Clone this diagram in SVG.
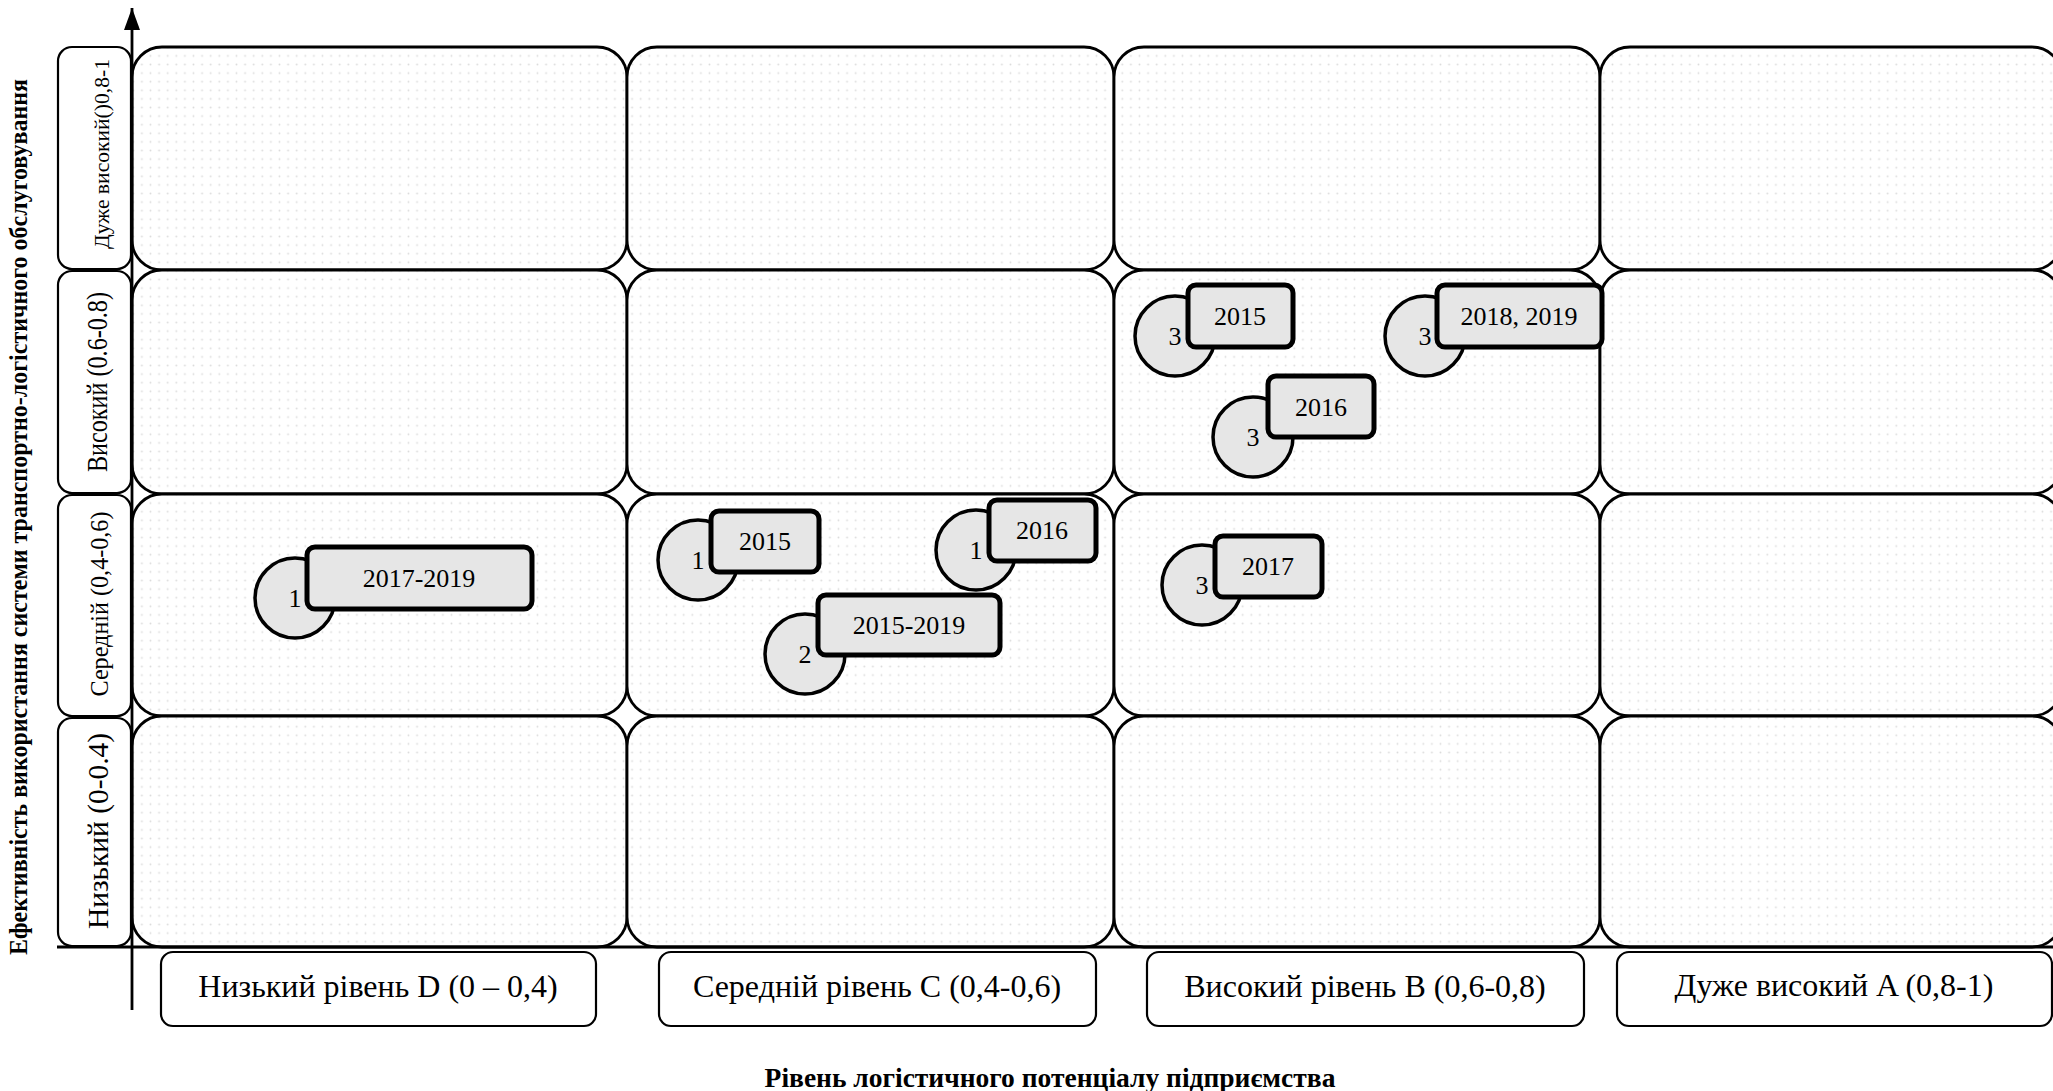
<svg xmlns="http://www.w3.org/2000/svg" width="2053" height="1091" viewBox="0 0 2053 1091">
  <defs>
    <pattern id="dots" width="8.6" height="8.6" patternUnits="userSpaceOnUse">
      <rect width="8.6" height="8.6" fill="#ffffff"/>
      <circle cx="4.3" cy="4.3" r="0.9" fill="#dcdcdc"/>
    </pattern>
    <marker id="arrowhead" viewBox="0 0 22 16" refX="22" refY="8" markerWidth="22" markerHeight="16" markerUnits="userSpaceOnUse" orient="auto">
      <path d="M0 0 L22 8 L0 16 Z" fill="#000"/>
    </marker>
    <style>
      .cell { fill: url(#dots); stroke: #000; stroke-width: 2.8; }
      .lbl { fill: #fff; stroke: #000; stroke-width: 2.2; }
      .axis { stroke: #000; stroke-width: 2.8; fill: none; }
      .bub { fill: #e6e6e6; stroke: #000; stroke-width: 3.5; }
      .tag { fill: #e6e6e6; stroke: #000; stroke-width: 5; }
      text { font-family: "Liberation Serif", "Times New Roman", serif; fill: #000; }
      .num { font-size: 26px; text-anchor: middle; }
      .yr { font-size: 26px; text-anchor: middle; }
      .xlab { font-size: 32px; text-anchor: middle; }
      .ylab { text-anchor: middle; }
      .title { font-weight: bold; text-anchor: middle; }
    </style>
  </defs>

  <!-- matrix cells: 4 rows x 4 columns -->
  <g id="grid">
    <rect class="cell" x="132" y="47" width="495" height="223" rx="30"/>
    <rect class="cell" x="627" y="47" width="487" height="223" rx="30"/>
    <rect class="cell" x="1114" y="47" width="486" height="223" rx="30"/>
    <rect class="cell" x="1600" y="47" width="462" height="223" rx="30"/>

    <rect class="cell" x="132" y="270" width="495" height="224" rx="30"/>
    <rect class="cell" x="627" y="270" width="487" height="224" rx="30"/>
    <rect class="cell" x="1114" y="270" width="486" height="224" rx="30"/>
    <rect class="cell" x="1600" y="270" width="462" height="224" rx="30"/>

    <rect class="cell" x="132" y="494" width="495" height="222" rx="30"/>
    <rect class="cell" x="627" y="494" width="487" height="222" rx="30"/>
    <rect class="cell" x="1114" y="494" width="486" height="222" rx="30"/>
    <rect class="cell" x="1600" y="494" width="462" height="222" rx="30"/>

    <rect class="cell" x="132" y="716" width="495" height="231" rx="30"/>
    <rect class="cell" x="627" y="716" width="487" height="231" rx="30"/>
    <rect class="cell" x="1114" y="716" width="486" height="231" rx="30"/>
    <rect class="cell" x="1600" y="716" width="462" height="231" rx="30"/>
  </g>

  <!-- axes -->
  <g id="connectors">
    <line class="axis" x1="57" y1="947" x2="2053" y2="947"/>
    <line class="axis" x1="132" y1="1010" x2="132" y2="8" marker-end="url(#arrowhead)"/>
  </g>

  <!-- vertical scale labels -->
  <g id="y-levels">
    <g id="y-very-high">
      <rect class="lbl" x="58" y="47" width="73" height="222" rx="14"/>
      <text class="ylab" font-size="22" textLength="190" lengthAdjust="spacingAndGlyphs" transform="translate(109,154) rotate(-90)">Дуже високий()0,8-1</text>
    </g>
    <g id="y-high">
      <rect class="lbl" x="58" y="271" width="73" height="222" rx="14"/>
      <text class="ylab" font-size="29" textLength="180" lengthAdjust="spacingAndGlyphs" transform="translate(107,382) rotate(-90)">Високий (0.6-0.8)</text>
    </g>
    <g id="y-medium">
      <rect class="lbl" x="58" y="495" width="73" height="221" rx="14"/>
      <text class="ylab" font-size="25" textLength="185" lengthAdjust="spacingAndGlyphs" transform="translate(108,604) rotate(-90)">Середній (0,4-0,6)</text>
    </g>
    <g id="y-low">
      <rect class="lbl" x="58" y="718" width="73" height="228" rx="14"/>
      <text class="ylab" font-size="30" textLength="196" lengthAdjust="spacingAndGlyphs" transform="translate(108,831) rotate(-90)">Низький (0-0.4)</text>
    </g>
  </g>

  <!-- horizontal scale labels -->
  <g id="x-levels">
    <g id="x-low">
      <rect class="lbl" x="161" y="952" width="435" height="74" rx="12"/>
      <text class="xlab" x="378" y="997">Низький рівень D (0 – 0,4)</text>
    </g>
    <g id="x-medium">
      <rect class="lbl" x="659" y="952" width="437" height="74" rx="12"/>
      <text class="xlab" x="877" y="997">Середній рівень C (0,4-0,6)</text>
    </g>
    <g id="x-high">
      <rect class="lbl" x="1147" y="952" width="437" height="74" rx="12"/>
      <text class="xlab" x="1365" y="997">Високий рівень B (0,6-0,8)</text>
    </g>
    <g id="x-very-high">
      <rect class="lbl" x="1617" y="952" width="435" height="74" rx="12"/>
      <text class="xlab" x="1834" y="996" font-size="27.5">Дуже високий A (0,8-1)</text>
    </g>
  </g>

  <!-- axis titles -->
  <text id="y-title" class="title" font-size="25" textLength="876" lengthAdjust="spacingAndGlyphs" transform="translate(27,517) rotate(-90)">Ефективність використання системи транспортно-логістичного обслуговування</text>
  <text id="x-title" class="title" font-size="27.5" x="1050" y="1087">Рівень логістичного потенціалу підприємства</text>

  <!-- enterprise positions by year -->
  <g id="node-1-2017-2019">
    <circle class="bub" cx="295" cy="598" r="40"/>
    <text class="num" x="295" y="607">1</text>
    <rect class="tag" x="307" y="547" width="225" height="62" rx="8"/>
    <text class="yr" x="419" y="587">2017-2019</text>
  </g>
  <g id="node-1-2015">
    <circle class="bub" cx="698" cy="560" r="40"/>
    <text class="num" x="698" y="569">1</text>
    <rect class="tag" x="711" y="511" width="108" height="61" rx="8"/>
    <text class="yr" x="765" y="550">2015</text>
  </g>
  <g id="node-1-2016">
    <circle class="bub" cx="976" cy="550" r="40"/>
    <text class="num" x="976" y="559">1</text>
    <rect class="tag" x="989" y="500" width="107" height="61" rx="8"/>
    <text class="yr" x="1042" y="539">2016</text>
  </g>
  <g id="node-2-2015-2019">
    <circle class="bub" cx="805" cy="654" r="40"/>
    <text class="num" x="805" y="663">2</text>
    <rect class="tag" x="818" y="595" width="182" height="60" rx="8"/>
    <text class="yr" x="909" y="634">2015-2019</text>
  </g>
  <g id="node-3-2017">
    <circle class="bub" cx="1202" cy="585" r="40"/>
    <text class="num" x="1202" y="594">3</text>
    <rect class="tag" x="1215" y="536" width="107" height="61" rx="8"/>
    <text class="yr" x="1268" y="575">2017</text>
  </g>
  <g id="node-3-2015">
    <circle class="bub" cx="1175" cy="336" r="40"/>
    <text class="num" x="1175" y="345">3</text>
    <rect class="tag" x="1188" y="285" width="105" height="62" rx="8"/>
    <text class="yr" x="1240" y="325">2015</text>
  </g>
  <g id="node-3-2018-2019">
    <circle class="bub" cx="1425" cy="336" r="40"/>
    <text class="num" x="1425" y="345">3</text>
    <rect class="tag" x="1437" y="285" width="165" height="62" rx="8"/>
    <text class="yr" x="1519" y="325">2018, 2019</text>
  </g>
  <g id="node-3-2016">
    <circle class="bub" cx="1253" cy="437" r="40"/>
    <text class="num" x="1253" y="446">3</text>
    <rect class="tag" x="1268" y="376" width="106" height="61" rx="8"/>
    <text class="yr" x="1321" y="416">2016</text>
  </g>
</svg>
